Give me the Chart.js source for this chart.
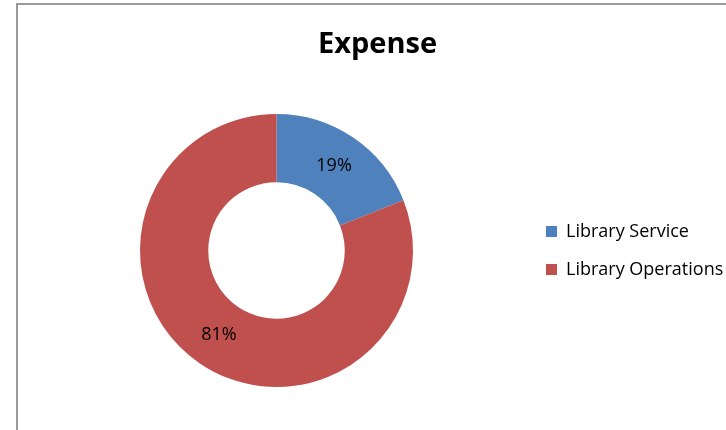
<!DOCTYPE html>
<html>
<head>
<meta charset="utf-8">
<title>Expense</title>
<script src="https://cdn.jsdelivr.net/npm/chart.js@4.4.1/dist/chart.umd.min.js"></script>
<style>
  html, body { margin: 0; padding: 0; background: #fff; }
  #wrap { position: relative; width: 726px; height: 430px; overflow: hidden; }
  #frame {
    position: absolute; left: 16px; top: 3px; right: -4px; bottom: -4px;
    border-left: 2px solid #9a9a9a; border-top: 2px solid #9a9a9a;
  }
  #expenseChart { position: absolute; left: 0; top: 0; }
</style>
</head>
<body>
<div id="wrap">
  <div id="frame"></div>
  <canvas id="expenseChart" width="728" height="430"></canvas>
</div>
<script>
const chartTitle = "Expense"
const categories = ["Library Service", "Library Operations"]
const shares = [19, 81]
const sliceColors = ["#4f81bd", "#c0504d"]

// percentage text in the middle of each ring segment
const sliceLabels = {
  id: "sliceLabels",
  afterDatasetsDraw(chart) {
    const { ctx } = chart
    const data = chart.data.datasets[0].data
    const total = data.reduce((a, b) => a + b, 0)
    ctx.save()
    ctx.font = "18px 'Open Sans'"
    ctx.fillStyle = "#000"
    ctx.textAlign = "center"
    ctx.textBaseline = "middle"
    chart.getDatasetMeta(0).data.forEach((arc, i) => {
      const pos = arc.tooltipPosition()
      ctx.fillText(Math.round((data[i] / total) * 100) + "%", pos.x, pos.y)
    })
    ctx.restore()
  },
}

document.addEventListener("DOMContentLoaded", () => {
  const ctx = document.getElementById("expenseChart")

  new Chart(ctx, {
    type: "doughnut",
    data: {
      labels: categories,
      datasets: [
        {
          data: shares,
          backgroundColor: sliceColors,
          borderWidth: 0,
        },
      ],
    },
    options: {
      responsive: false,
      animation: false,
      cutout: "50%",
      layout: {
        padding: { left: 27, right: 0, top: 0, bottom: 43 },
      },
      plugins: {
        title: {
          display: true,
          text: chartTitle,
          color: "#000",
          font: { family: "'Open Sans'", size: 29, weight: "bold" },
          padding: { top: 27, bottom: 52.2 },
        },
        legend: {
          position: "right",
          fullSize: false,
          maxWidth: 202,
          labels: {
            color: "#000",
            font: { family: "'Open Sans'", size: 18 },
            boxWidth: 11,
            boxHeight: 11,
            padding: 20,
          },
        },
        tooltip: { enabled: false },
      },
    },
    plugins: [sliceLabels],
  })
})
</script>
</body>
</html>
